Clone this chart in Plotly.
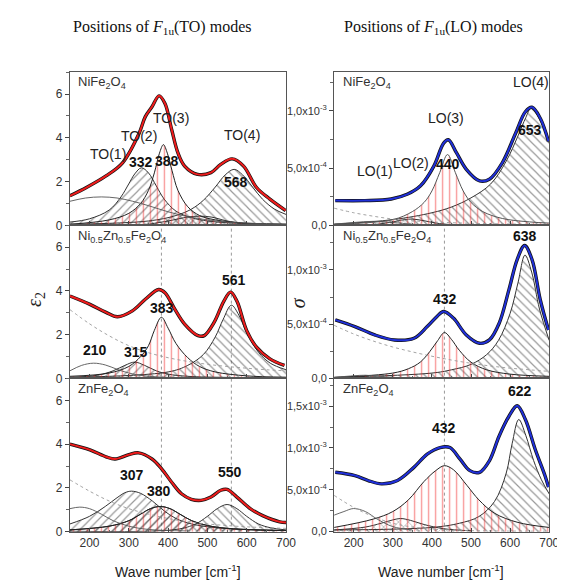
import plotly.graph_objects as go

# ---------------- data ----------------
# Left column: epsilon_2, TO modes
ni_fit_x = [150, 192, 242, 284, 326, 342, 359, 377, 392, 409, 425, 442, 475, 509, 534, 563, 592, 625, 659, 699]
ni_fit_y = [1.35, 1.73, 2.26, 2.86, 4.2, 4.97, 5.42, 5.92, 5.57, 4.38, 3.31, 2.71, 2.33, 2.41, 2.79, 3.04, 2.71, 1.73, 1.2, 0.68]
ni_to1_x = [150, 190, 230, 270, 310, 350, 400, 450, 500, 550, 600, 650, 700]
ni_to1_y = [1.1, 1.25, 1.3, 1.25, 1.1, 0.9, 0.62, 0.4, 0.25, 0.15, 0.1, 0.07, 0.05]
ni_to2_x = [150, 200, 250, 280, 300, 315, 332, 350, 370, 390, 420, 460, 500, 550, 600, 700]
ni_to2_y = [0.15, 0.3, 0.7, 1.3, 1.9, 2.35, 2.63, 2.4, 1.8, 1.2, 0.65, 0.35, 0.2, 0.12, 0.08, 0.05]
ni_to3_x = [150, 250, 300, 330, 350, 365, 378, 388, 398, 410, 425, 450, 480, 520, 600, 700]
ni_to3_y = [0.05, 0.25, 0.55, 1.0, 1.6, 2.4, 3.3, 3.69, 3.3, 2.5, 1.6, 0.85, 0.45, 0.25, 0.1, 0.05]
ni_to4_x = [150, 350, 420, 460, 490, 520, 545, 568, 590, 615, 640, 670, 700]
ni_to4_y = [0.05, 0.2, 0.45, 0.75, 1.15, 1.75, 2.3, 2.56, 2.3, 1.75, 1.2, 0.75, 0.5]
ni_small_x = [350, 400, 450, 480, 510, 550, 600]
ni_small_y = [0.05, 0.2, 0.38, 0.42, 0.38, 0.2, 0.05]

nz_fit_x = [150, 201, 242, 271, 309, 342, 376, 392, 417, 442, 476, 492, 517, 542, 559, 575, 600, 625, 659, 696]
nz_fit_y = [3.77, 3.39, 3.02, 2.82, 3.09, 3.62, 4.07, 3.92, 3.17, 2.49, 1.96, 1.96, 2.56, 3.54, 3.95, 3.54, 2.19, 1.43, 0.9, 0.6]
nz_bg_x = [150, 200, 250, 300, 350, 400, 450, 500, 550, 600, 650, 700]
nz_bg_y = [3.15, 2.5, 1.95, 1.5, 1.18, 0.95, 0.78, 0.65, 0.55, 0.47, 0.4, 0.35]
nz_210_x = [150, 180, 210, 240, 270, 300, 340, 400, 500, 700]
nz_210_y = [0.35, 0.6, 0.7, 0.62, 0.42, 0.25, 0.12, 0.05, 0.02, 0.01]
nz_315_x = [150, 220, 260, 290, 315, 340, 370, 400, 450, 550, 700]
nz_315_y = [0.05, 0.15, 0.35, 0.6, 0.75, 0.6, 0.35, 0.2, 0.1, 0.05, 0.02]
nz_383_x = [150, 250, 300, 330, 350, 365, 383, 400, 420, 450, 480, 520, 600, 700]
nz_383_y = [0.1, 0.25, 0.55, 1.0, 1.5, 2.2, 2.8, 2.3, 1.6, 0.95, 0.55, 0.3, 0.12, 0.06]
nz_561_x = [150, 400, 450, 490, 520, 540, 561, 580, 600, 630, 660, 700]
nz_561_y = [0.05, 0.3, 0.6, 1.1, 1.9, 2.7, 3.35, 2.9, 2.1, 1.2, 0.7, 0.4]

zn_fit_x = [150, 201, 242, 265, 300, 325, 359, 384, 409, 434, 459, 484, 509, 534, 550, 575, 609, 642, 684, 700]
zn_fit_y = [4.0, 3.74, 3.42, 3.32, 3.52, 3.6, 3.32, 2.86, 2.26, 1.73, 1.48, 1.43, 1.58, 1.89, 1.93, 1.58, 1.05, 0.72, 0.45, 0.42]
zn_bg_x = [150, 200, 250, 300, 350, 400, 450, 500, 600, 700]
zn_bg_y = [2.37, 1.85, 1.4, 1.05, 0.8, 0.6, 0.45, 0.35, 0.22, 0.15]
zn_thin_x = [150, 175, 200, 230, 260, 300, 350, 450]
zn_thin_y = [1.05, 1.12, 1.05, 0.8, 0.5, 0.25, 0.1, 0.03]
zn_307_x = [150, 200, 240, 270, 290, 307, 330, 360, 390, 420, 460, 520, 600, 700]
zn_307_y = [0.35, 0.7, 1.15, 1.55, 1.78, 1.85, 1.75, 1.4, 0.95, 0.6, 0.35, 0.18, 0.1, 0.05]
zn_380_x = [150, 250, 300, 330, 355, 380, 405, 430, 460, 500, 550, 620, 700]
zn_380_y = [0.08, 0.25, 0.5, 0.8, 1.05, 1.15, 1.05, 0.8, 0.5, 0.28, 0.15, 0.08, 0.05]
zn_550_x = [150, 420, 470, 500, 525, 550, 575, 600, 630, 660, 700]
zn_550_y = [0.02, 0.1, 0.35, 0.7, 1.05, 1.24, 1.05, 0.7, 0.35, 0.18, 0.08]

# Right column: sigma, LO modes (values in units of 1e-4)
niL_fit_x = [153, 229, 296, 338, 371, 405, 430, 442, 463, 488, 522, 547, 580, 614, 639, 656, 677, 698]
niL_fit_y = [2.16, 2.16, 2.3, 2.73, 3.45, 5.17, 7.18, 7.47, 6.32, 4.89, 3.88, 4.03, 5.46, 8.04, 9.91, 10.3, 9.34, 7.33]
niL_bg_x = [150, 200, 250, 300, 350, 400, 500, 600, 700]
niL_bg_y = [1.5, 1.1, 0.8, 0.55, 0.4, 0.3, 0.18, 0.12, 0.08]
niL_lo1_x = [150, 200, 250, 300, 350, 400]
niL_lo1_y = [0.1, 0.25, 0.35, 0.25, 0.1, 0.03]
niL_lo2_x = [250, 300, 330, 350, 380, 420, 460]
niL_lo2_y = [0.05, 0.3, 0.5, 0.55, 0.4, 0.15, 0.05]
niL_lo3_x = [150, 300, 350, 380, 400, 420, 440, 460, 480, 500, 530, 580, 650, 700]
niL_lo3_y = [0.1, 0.5, 1.2, 2.0, 3.0, 4.6, 6.18, 4.6, 3.0, 2.0, 1.2, 0.6, 0.3, 0.2]
niL_lo4_x = [150, 300, 400, 450, 500, 550, 590, 620, 640, 653, 670, 700]
niL_lo4_y = [0.1, 0.5, 1.1, 1.6, 2.4, 3.6, 5.6, 7.8, 9.4, 10.2, 9.6, 7.2]

nzL_fit_x = [153, 203, 254, 304, 354, 388, 413, 430, 455, 488, 522, 547, 572, 597, 618, 637, 656, 677, 698]
nzL_fit_y = [5.4, 4.78, 4.01, 3.55, 3.7, 4.78, 5.71, 6.17, 5.56, 4.01, 3.24, 3.55, 5.09, 8.18, 10.95, 12.25, 10.95, 7.25, 4.47]
nzL_bg_x = [150, 200, 250, 300, 350, 400, 450, 500, 550, 600, 650, 700]
nzL_bg_y = [4.9, 4.1, 3.45, 2.9, 2.45, 2.05, 1.7, 1.4, 1.15, 0.95, 0.8, 0.65]
nzL_thin_x = [150, 200, 230, 260, 300, 350]
nzL_thin_y = [0.1, 0.25, 0.3, 0.22, 0.1, 0.03]
nzL_432_x = [150, 300, 340, 370, 395, 415, 432, 450, 470, 500, 540, 600, 700]
nzL_432_y = [0.1, 0.5, 0.9, 1.5, 2.5, 3.5, 4.23, 3.6, 2.6, 1.5, 0.8, 0.4, 0.2]
nzL_638_x = [150, 400, 450, 500, 540, 570, 600, 620, 638, 655, 675, 700]
nzL_638_y = [0.1, 0.5, 0.8, 1.3, 2.2, 3.5, 6.0, 8.8, 11.36, 9.8, 6.4, 3.5]

znL_fit_x = [153, 203, 237, 271, 312, 354, 388, 421, 446, 472, 497, 522, 547, 572, 597, 618, 639, 664, 689, 698]
znL_fit_y = [7.09, 6.7, 6.11, 5.71, 6.11, 7.68, 9.26, 10.05, 10.05, 8.66, 7.29, 7.09, 8.47, 11.43, 13.79, 15.05, 13.4, 9.85, 6.7, 5.32]
znL_bg_x = [150, 200, 250, 300, 350, 400, 500, 700]
znL_bg_y = [4.33, 2.9, 1.8, 1.0, 0.55, 0.3, 0.12, 0.05]
znL_thin_x = [150, 175, 200, 230, 260, 300, 350]
znL_thin_y = [1.97, 2.4, 2.76, 2.4, 1.5, 0.6, 0.2]
znL_320_x = [150, 230, 270, 300, 320, 345, 380, 430, 500]
znL_320_y = [0.2, 0.55, 1.0, 1.4, 1.57, 1.35, 0.85, 0.35, 0.1]
znL_432_x = [150, 250, 300, 340, 380, 410, 432, 455, 490, 520, 560, 620, 700]
znL_432_y = [0.5, 1.5, 2.4, 3.8, 6.0, 7.3, 7.88, 7.4, 5.5, 3.8, 2.2, 1.1, 0.5]
znL_622_x = [150, 400, 470, 520, 560, 590, 605, 622, 640, 660, 680, 700]
znL_622_y = [0.2, 0.5, 1.0, 1.8, 3.6, 7.0, 10.5, 13.4, 11.5, 8.5, 6.2, 4.5]

left_ticks = [0, 2, 4, 6]
right_tickvals = [0, 5, 10, 15]
right_ticktext = ["0,0", "5,0x10<sup>-4</sup>", "1,0x10<sup>-3</sup>", "1,5x10<sup>-3</sup>"]
x_ticks = [200, 300, 400, 500, 600, 700]

# ---------------- figure ----------------
W, H = 565, 583
fig = go.Figure()

def py(p):
    return 1 - p / H

def px(p):
    return p / W

LX = [px(63), px(283)]
RX = [px(332), px(551)]
ROWS = [[py(220), py(65)], [py(375), py(220)], [py(530), py(375)]]

RED = "#ee1c1c"
BLUE = "#2030d8"
HATCH = "#333333"
RV = "rgba(240,30,30,0.9)"

def hatched(ax, xs, ys, shape, fg=HATCH, size=6, sol=0.2, outline="#333333"):
    xa, ya = ax
    fig.add_trace(go.Scatter(x=xs, y=ys, xaxis=xa, yaxis=ya, mode="lines",
                             line=dict(color=outline, width=1, shape="spline", smoothing=1.0),
                             fill="tozeroy", fillcolor="rgba(0,0,0,0)",
                             fillpattern=dict(shape=shape, fgcolor=fg, bgcolor="rgba(0,0,0,0)",
                                              size=size, solidity=sol),
                             hoverinfo="skip", showlegend=False))

def thin(ax, xs, ys, color="#555555", dash="solid", width=0.9):
    xa, ya = ax
    fig.add_trace(go.Scatter(x=xs, y=ys, xaxis=xa, yaxis=ya, mode="lines",
                             line=dict(color=color, width=width, dash=dash, shape="spline", smoothing=1.0),
                             hoverinfo="skip", showlegend=False))

def fitcurve(ax, xs, ys, color):
    xa, ya = ax
    fig.add_trace(go.Scatter(x=xs, y=ys, xaxis=xa, yaxis=ya, mode="lines",
                             line=dict(color="#111111", width=3.4, shape="spline", smoothing=1.0),
                             hoverinfo="skip", showlegend=False))
    fig.add_trace(go.Scatter(x=xs, y=ys, xaxis=xa, yaxis=ya, mode="lines",
                             line=dict(color=color, width=2, shape="spline", smoothing=1.0),
                             hoverinfo="skip", showlegend=False))

# top-left NiFe2O4
A = ("x", "y")
hatched(A, ni_to2_x, ni_to2_y, "/")
hatched(A, ni_to4_x, ni_to4_y, "\\")
hatched(A, ni_small_x, ni_small_y, "x", size=7, sol=0.15)
hatched(A, ni_to3_x, ni_to3_y, "|", fg=RV, size=7, sol=0.2, outline="#222222")
thin(A, ni_to1_x, ni_to1_y)
fitcurve(A, ni_fit_x, ni_fit_y, RED)

# top-right NiFe2O4 LO
B = ("x2", "y2")
hatched(B, niL_lo4_x, niL_lo4_y, "\\")
hatched(B, niL_lo2_x, niL_lo2_y, "x", size=7, sol=0.15)
hatched(B, niL_lo3_x, niL_lo3_y, "|", fg=RV, size=7, sol=0.2, outline="#555555")
thin(B, niL_lo1_x, niL_lo1_y)
thin(B, niL_bg_x, niL_bg_y, color="#999999", dash="dot")
fitcurve(B, niL_fit_x, niL_fit_y, BLUE)

# middle-left Ni0.5Zn0.5Fe2O4
C = ("x3", "y3")
hatched(C, nz_561_x, nz_561_y, "\\")
hatched(C, nz_315_x, nz_315_y, "/")
hatched(C, nz_383_x, nz_383_y, "|", fg=RV, size=7, sol=0.2, outline="#222222")
thin(C, nz_210_x, nz_210_y)
thin(C, nz_bg_x, nz_bg_y, color="#999999", dash="dot")
fitcurve(C, nz_fit_x, nz_fit_y, RED)

# middle-right
D = ("x4", "y4")
hatched(D, nzL_638_x, nzL_638_y, "\\")
hatched(D, nzL_432_x, nzL_432_y, "|", fg=RV, size=7, sol=0.2, outline="#222222")
thin(D, nzL_thin_x, nzL_thin_y)
thin(D, nzL_bg_x, nzL_bg_y, color="#999999", dash="dot")
fitcurve(D, nzL_fit_x, nzL_fit_y, BLUE)

# bottom-left ZnFe2O4
E = ("x5", "y5")
hatched(E, zn_307_x, zn_307_y, "/")
hatched(E, zn_550_x, zn_550_y, "\\")
hatched(E, zn_380_x, zn_380_y, "/", outline="#222222")
hatched(E, zn_380_x, zn_380_y, "|", fg=RV, size=7, sol=0.2, outline="#222222")
thin(E, zn_thin_x, zn_thin_y)
thin(E, zn_bg_x, zn_bg_y, color="#999999", dash="dot")
fitcurve(E, zn_fit_x, zn_fit_y, RED)

# bottom-right
F = ("x6", "y6")
hatched(F, znL_622_x, znL_622_y, "\\")
hatched(F, znL_320_x, znL_320_y, "x", size=7, sol=0.15)
hatched(F, znL_432_x, znL_432_y, "|", fg=RV, size=7, sol=0.2, outline="#222222")
thin(F, znL_thin_x, znL_thin_y)
thin(F, znL_bg_x, znL_bg_y, color="#999999", dash="dot")
fitcurve(F, znL_fit_x, znL_fit_y, BLUE)

# ---------------- axes ----------------
axfont = dict(family="Arial, Liberation Sans, sans-serif", size=12, color="#333333")

def xaxis(domain, anchor, labels):
    return dict(domain=domain, anchor=anchor, range=[150, 700], tickvals=x_ticks,
                showticklabels=labels, ticks="inside", ticklen=4, tickcolor="#444",
                showline=True, linecolor="#555", linewidth=1.2, mirror=True,
                showgrid=False, zeroline=False, tickfont=axfont,
                minor=dict(ticks="inside", ticklen=2, dtick=50, tickcolor="#666"))

def yleft(domain, anchor):
    return dict(domain=domain, anchor=anchor, range=[0, 7], tickvals=left_ticks,
                ticks="outside", ticklen=4, tickcolor="#444", showline=True, linecolor="#555",
                linewidth=1.2, mirror=True, showgrid=False, zeroline=False, tickfont=axfont,
                minor=dict(ticks="outside", ticklen=3, dtick=1, tickcolor="#666"))

def yright(domain, anchor, top, n):
    return dict(domain=domain, anchor=anchor, range=[0, top], tickvals=right_tickvals[:n],
                ticktext=right_ticktext[:n], ticks="outside", ticklen=4, tickcolor="#444",
                showline=True, linecolor="#555", linewidth=1.2, mirror=True, showgrid=False,
                zeroline=False, tickfont=dict(family="Arial, Liberation Sans, sans-serif", size=11, color="#333"),
                minor=dict(ticks="outside", ticklen=3, dtick=2.5, tickcolor="#666"))

fig.update_layout(
    width=W, height=H, margin=dict(l=0, r=0, t=0, b=0),
    paper_bgcolor="white", plot_bgcolor="white", showlegend=False,
    xaxis=xaxis(LX, "y", False), yaxis=yleft(ROWS[0], "x"),
    xaxis2=xaxis(RX, "y2", False), yaxis2=yright(ROWS[0], "x2", 13.36, 3),
    xaxis3=xaxis(LX, "y3", False), yaxis3=yleft(ROWS[1], "x3"),
    xaxis4=xaxis(RX, "y4", False), yaxis4=yright(ROWS[1], "x4", 14.1, 3),
    xaxis5=xaxis(LX, "y5", True), yaxis5=yleft(ROWS[2], "x5"),
    xaxis6=xaxis(RX, "y6", True), yaxis6=yright(ROWS[2], "x6", 18.3, 4),
)

# dotted guide lines
shapes = []
for xv in [383, 561]:
    shapes.append(dict(type="line", xref="x3", yref="paper", x0=xv, x1=xv, y0=py(530), y1=py(220),
                       line=dict(color="#999", width=1, dash="dot"), layer="below"))
shapes.append(dict(type="line", xref="x4", yref="paper", x0=432, x1=432, y0=py(530), y1=py(220),
                   line=dict(color="#999", width=1, dash="dot"), layer="below"))
fig.update_layout(shapes=shapes)

# ---------------- text ----------------
ann = []
serif = dict(family="Liberation Serif, Times New Roman, serif", size=16, color="#111")
ann.append(dict(text="Positions of <i>F</i><sub>1u</sub>(TO) modes", xref="paper", yref="paper",
                x=px(157), y=py(20), xanchor="center", yanchor="middle", showarrow=False, font=serif))
ann.append(dict(text="Positions of <i>F</i><sub>1u</sub>(LO) modes", xref="paper", yref="paper",
                x=px(433), y=py(20), xanchor="center", yanchor="middle", showarrow=False, font=serif))

lab = dict(family="Arial, Liberation Sans, sans-serif", size=13, color="#333")
for xa, ya, t in [("x", "y", "NiFe<sub>2</sub>O<sub>4</sub>"), ("x2", "y2", "NiFe<sub>2</sub>O<sub>4</sub>"),
                  ("x3", "y3", "Ni<sub>0.5</sub>Zn<sub>0.5</sub>Fe<sub>2</sub>O<sub>4</sub>"),
                  ("x4", "y4", "Ni<sub>0.5</sub>Zn<sub>0.5</sub>Fe<sub>2</sub>O<sub>4</sub>"),
                  ("x5", "y5", "ZnFe<sub>2</sub>O<sub>4</sub>"), ("x6", "y6", "ZnFe<sub>2</sub>O<sub>4</sub>")]:
    ann.append(dict(text=t, xref=xa + " domain", yref=ya + " domain", x=0.03, y=0.93,
                    xanchor="left", yanchor="middle", showarrow=False, font=lab))

reg = dict(family="Arial, Liberation Sans, sans-serif", size=14, color="#222")
bold = dict(family="Arial, Liberation Sans, sans-serif", size=14, color="#111")
peak_labels = [
    ("x", "y", 247, 3.24, "TO(1)", reg), ("x", "y", 326, 4.07, "TO(2)", reg),
    ("x", "y", 407, 4.89, "TO(3)", reg), ("x", "y", 587, 4.14, "TO(4)", reg),
    ("x", "y", 330, 2.89, "<b>332</b>", bold), ("x", "y", 397, 2.94, "<b>388</b>", bold),
    ("x", "y", 573, 1.96, "<b>568</b>", bold),
    ("x3", "y3", 215, 1.28, "<b>210</b>", bold), ("x3", "y3", 317, 1.2, "<b>315</b>", bold),
    ("x3", "y3", 384, 3.24, "<b>383</b>", bold), ("x3", "y3", 567, 4.52, "<b>561</b>", bold),
    ("x5", "y5", 307, 2.59, "<b>307</b>", bold), ("x5", "y5", 378, 1.84, "<b>380</b>", bold),
    ("x5", "y5", 557, 2.71, "<b>550</b>", bold),
    ("x2", "y2", 254, 4.74, "LO(1)", reg), ("x2", "y2", 346, 5.46, "LO(2)", reg),
    ("x2", "y2", 436, 9.34, "LO(3)", reg), ("x2", "y2", 654, 12.5, "LO(4)", reg),
    ("x2", "y2", 442, 5.32, "<b>440</b>", bold), ("x2", "y2", 652, 8.34, "<b>653</b>", bold),
    ("x4", "y4", 434, 7.31, "<b>432</b>", bold), ("x4", "y4", 639, 13.1, "<b>638</b>", bold),
    ("x6", "y6", 430, 12.4, "<b>432</b>", bold), ("x6", "y6", 624, 16.75, "<b>622</b>", bold),
]
for xa, ya, xv, yv, t, f in peak_labels:
    ann.append(dict(text=t, xref=xa, yref=ya, x=xv, y=yv, xanchor="center", yanchor="middle",
                    showarrow=False, font=f))

wfont = dict(family="Arial, Liberation Sans, sans-serif", size=14, color="#222")
ann.append(dict(text="Wave number [cm<sup>-1</sup>]", xref="paper", yref="paper", x=px(173), y=py(570),
                xanchor="center", yanchor="middle", showarrow=False, font=wfont))
ann.append(dict(text="Wave number [cm<sup>-1</sup>]", xref="paper", yref="paper", x=px(441), y=py(570),
                xanchor="center", yanchor="middle", showarrow=False, font=wfont))
ann.append(dict(text="<i>ε</i><sub>2</sub>", xref="paper", yref="paper", x=px(28), y=py(295), textangle=-90,
                xanchor="center", yanchor="middle",
                showarrow=False, font=dict(family="Liberation Serif, serif", size=20, color="#222")))
ann.append(dict(text="<i>σ</i>", xref="paper", yref="paper", x=px(296), y=py(298), textangle=-90,
                xanchor="center", yanchor="middle",
                showarrow=False, font=dict(family="Liberation Serif, serif", size=20, color="#222")))
fig.update_layout(annotations=ann)

fig.write_html("out.html")
